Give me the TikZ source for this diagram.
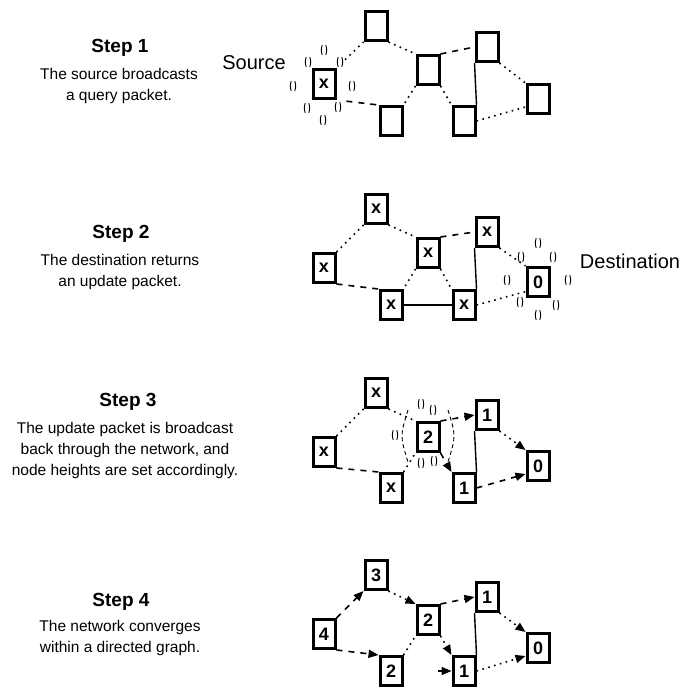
\documentclass[tikz,border=0pt]{standalone}
\usepackage{fontspec}
\setmainfont{Liberation Sans}
\usetikzlibrary{arrows.meta,calc}
\tikzset{
  nd/.style={draw, line width=3pt, minimum width=22pt, minimum height=29pt, inner sep=0pt, font=\fontsize{18}{18}\selectfont\bfseries},
  dotl/.style={line width=1.6pt, dash pattern=on 1.6pt off 4.5pt},
  dashl/.style={line width=1.6pt, dash pattern=on 6pt off 6pt},
  solidl/.style={line width=1.4pt},
  arr/.style={-{Triangle[length=10pt,width=8pt]}},
  ttl/.style={font=\fontsize{19}{19}\selectfont\bfseries, anchor=north, inner sep=0pt},
  desc/.style={font=\fontsize{15.5}{21}\selectfont, align=center, anchor=north, inner sep=0pt},
  lbl/.style={font=\fontsize{20}{20}\selectfont, inner sep=0pt},
  spk/.style={line width=0.9pt},
  spark/.pic={\draw[spk] (-1.8,-5) .. controls (-3,0) .. (-1.8,5); \draw[spk] (1.8,-5) .. controls (3,0) .. (1.8,5);}
}
\begin{document}
\begin{tikzpicture}[x=1pt,y=-1pt]
\useasboundingbox (0,0) rectangle (682,690);
% ---------------- Step 1
\node[ttl] (t1) at (120,39) {Step 1};
\node[desc] (d1) at (119,68) {The source broadcasts\\a query packet.};
\node[lbl] (src) at (254,63) {Source};
\node[nd] (aS) at (324,84) {x};
\node[nd] (aT) at (376,26) {};
\node[nd] (aA) at (428,70) {};
\node[nd] (aB) at (487,47) {};
\node[nd] (aC) at (391,121) {};
\node[nd] (aD) at (464,121) {};
\node[nd] (aE) at (538,99) {};
\draw[dotl, shorten <=12pt] (aS.north east) -- (aT.south west);
\draw[dotl] (aT.south east) -- (aA.north west);
\draw[dashl] (aA.north east) -- (aB.west);
\draw[dotl] (aB.south east) -- (aE.north west);
\draw[dashl, shorten <=10pt] (aS.south east) -- (aC.north west);
\draw[dotl] (aA.south west) -- (aC.north east);
\draw[dotl] (aA.south east) -- (aD.north west);
\draw[solidl] (aB.south west) -- (aD.north east);
\draw[dotl] (aD.east) -- ($(aE.west)!0.5!(aE.south west)$);
\foreach \p in {(324,50),(308,62),(340,62),(293,86),(352,86),(307,108),(323,120),(338,107)}
  \pic at \p {spark};
% ---------------- Step 2
\node[ttl] (t2) at (121,225) {Step 2};
\node[desc] (d2) at (120,254) {The destination returns\\an update packet.};
\node[lbl] (dst) at (630,261) {Destination};
\node[nd] (bL) at (324,268) {x};
\node[nd] (bT) at (376,209) {x};
\node[nd] (bM) at (428,253) {x};
\node[nd] (bR) at (487,232) {x};
\node[nd] (bB1) at (391,305) {x};
\node[nd] (bB2) at (464,305) {x};
\node[nd] (bD) at (538,282) {0};
\draw[dotl] (bL.north east) -- (bT.south west);
\draw[dotl] (bT.south east) -- (bM.north west);
\draw[dashl] (bM.north east) -- (bR.west);
\draw[dotl] (bR.south east) -- (bD.north west);
\draw[dashl] (bL.south east) -- (bB1.north west);
\draw[dotl] (bM.south west) -- (bB1.north east);
\draw[dotl] (bM.south east) -- (bB2.north west);
\draw[solidl] (bB1.east) -- (bB2.west);
\draw[solidl] (bR.south west) -- (bB2.north east);
\draw[dotl] (bB2.east) -- ($(bD.west)!0.6!(bD.south west)$);
\foreach \p in {(538,243),(521,257),(553,257),(507,280),(568,280),(520,302),(538,315),(556,305)}
  \pic at \p {spark};
% ---------------- Step 3
\node[ttl] (t3) at (128,393) {Step 3};
\node[desc] (d3) at (125,422) {The update packet is broadcast\\back through the network, and\\node heights are set accordingly.};
\node[nd] (cT) at (376,393) {x};
\node[nd] (cL) at (324,452) {x};
\node[nd] (cB) at (391,488) {x};
\node[nd] (c2) at (428,437) {2};
\node[nd] (c1t) at (487,415) {1};
\node[nd] (c1b) at (464,488) {1};
\node[nd] (c0) at (538,466) {0};
\draw[dotl] (cL.north east) -- (cT.south west);
\draw[dotl] (cT.south east) -- (c2.north west);
\draw[dashl] (cL.south east) -- (cB.north west);
\draw[dotl] (cB.north east) -- (c2.south west);
\draw[dashl, arr] (c2.north east) -- (c1t.west);
\draw[dashl, arr] (c2.south east) -- (c1b.north west);
\draw[dotl, arr] (c1t.south east) -- (c0.north west);
\draw[dashl, arr] (c1b.east) -- ($(c0.west)!0.5!(c0.south west)$);
\draw[solidl] (c1t.south west) -- (c1b.north east);
\draw[spk, dash pattern=on 4pt off 3pt] (408,410) .. controls (400,436) .. (408,462);
\draw[spk, dash pattern=on 4pt off 3pt] (448,410) .. controls (456,436) .. (448,462);
\foreach \p in {(421,404),(433,410),(421,463),(434,461),(395,435)}
  \pic at \p {spark};
% ---------------- Step 4
\node[ttl] (t4) at (121,593) {Step 4};
\node[desc] (d4) at (120,620) {The network converges\\within a directed graph.};
\node[nd] (d3n) at (376,575) {3};
\node[nd] (d4n) at (324,634) {4};
\node[nd] (d2m) at (428,620) {2};
\node[nd] (d1t) at (487,597) {1};
\node[nd] (d2b) at (391,671) {2};
\node[nd] (d1b) at (464,671) {1};
\node[nd] (d0) at (538,648) {0};
\coordinate (dstub) at (438,671);
\draw[dashl, arr] (d4n.north east) -- (d3n.south west);
\draw[dotl, arr] (d3n.south east) -- (d2m.north west);
\draw[dashl, arr] (d2m.north east) -- (d1t.west);
\draw[dotl, arr] (d2m.south east) -- (d1b.north west);
\draw[dotl, arr] (d1t.south east) -- (d0.north west);
\draw[dotl, arr] (d1b.east) -- ($(d0.west)!0.5!(d0.south west)$);
\draw[dashl, arr] (d4n.south east) -- (d2b.north west);
\draw[dotl] (d2b.north east) -- (d2m.south west);
\draw[solidl] (d1t.south west) -- (d1b.north east);
\draw[solidl, arr] (dstub) -- (d1b.west);
\end{tikzpicture}
\end{document}
